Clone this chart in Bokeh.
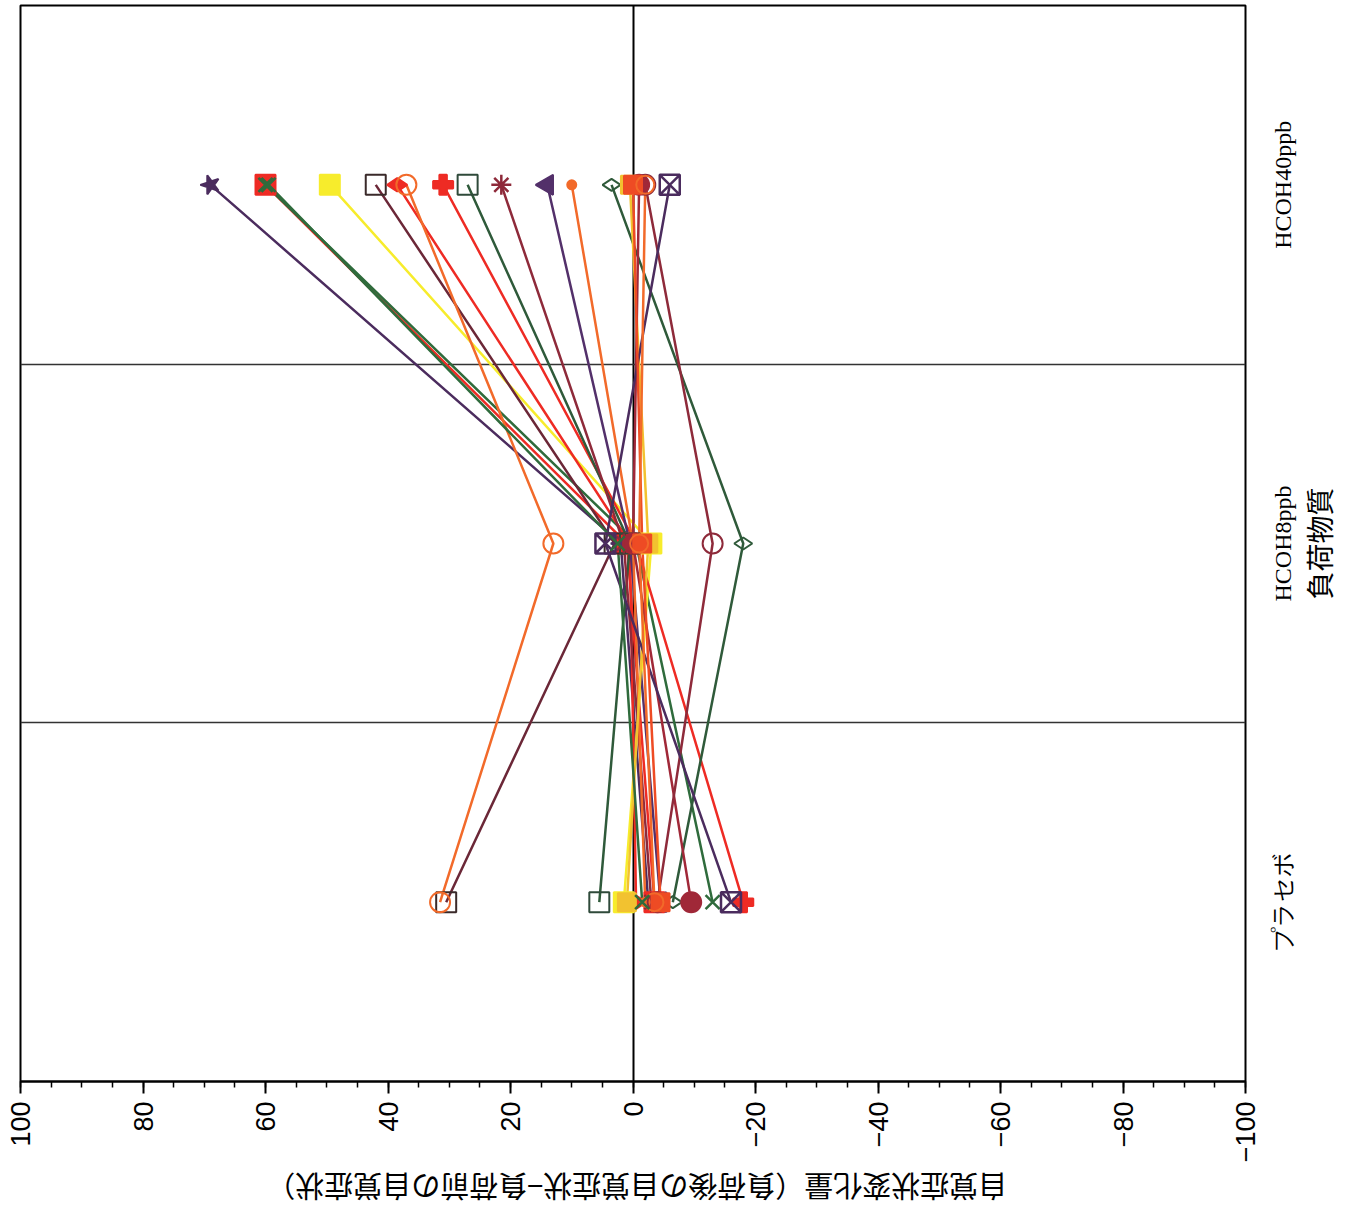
import math
from bokeh.plotting import figure
from bokeh.models import Range1d, FixedTicker, SingleIntervalTicker, Grid
from bokeh.layouts import column, row
from bokeh.core.properties import value
from bokeh.embed import file_html
from bokeh.resources import INLINE

# categories (bottom to top in the rotated picture)
categories = ["プラセボ", "HCOH8ppb", "HCOH40ppb"]
cat_pos = [0.5, 1.5, 2.5]
value_title = "自覚症状変化量（負荷後の自覚症状−負荷前の自覚症状）"
category_title = "負荷物質"

# values of each subject at each condition
placebo = [-2.5, -3.5, -13.0, 1.5, 30.5, -0.5, 31.5, -18.0, 5.5, -3.0,
           -4.5, -2.0, -6.5, 1.0, -9.5, -4.0, -16.0, -4.5, -3.5, -1.5]
hcoh8 = [2.0, 1.0, -0.5, -3.0, 3.0, 0.5, 13.0, -0.5, 0.5, 1.5,
         0.5, 0.0, -18.0, -2.5, 0.0, -13.0, 4.5, -1.5, -1.0, 2.5]
hcoh40 = [69.0, 60.0, 60.0, 49.5, 42.0, 38.5, 37.0, 31.0, 27.0, 21.5,
          14.0, 10.0, 3.5, 0.5, -1.0, -2.0, -6.0, 0.0, -2.0, 59.5]

colors = ["#4B2C5E", "#EE2B24", "#2F6B3C", "#F7EC2C", "#6B2737", "#EE2B24",
          "#F26A2A", "#EE2B24", "#2F5A3A", "#8E2A3A", "#53306A", "#F26A2A",
          "#2F5A3A", "#F2C230", "#A02838", "#8E2A3A", "#4B2C5E", "#EE4B24",
          "#F26A2A", "#2F6B3C"]
markers = ["star", "square", "x", "square", "square", "diamond", "circle",
           "plus", "square", "asterisk", "triangle", "circle", "diamond",
           "square", "circle", "circle", "square_x", "square", "circle", "x"]
filled = [True, True, False, True, False, True, False, True, False, False,
          True, True, False, True, True, False, False, True, False, False]
sizes = [20, 20, 20, 20, 20, 20, 20, 20, 20, 20,
         20, 9, 18, 18, 20, 20, 20, 18, 18, 20]
edge = ["#4B2C5E", "#EE2B24", "#2F6B3C", "#F7EC2C", "#3A2A2A", "#EE2B24",
        "#F26A2A", "#EE2B24", "#2F4A3A", "#8E2A3A", "#53306A", "#F26A2A",
        "#2F5A3A", "#F2C230", "#A02838", "#8E2A3A", "#4B2C5E", "#EE4B24",
        "#F26A2A", "#2F6B3C"]

# ---------------- main plot ----------------
p = figure(width=1261, height=1165, x_range=Range1d(100, -100), y_range=Range1d(0, 3),
           output_backend="svg", toolbar_location=None, y_axis_location=None,
           min_border_left=20, min_border_top=5, min_border_right=16, min_border_bottom=83)

p.background_fill_color = "white"
p.border_fill_color = "white"
p.outline_line_color = "black"
p.outline_line_width = 2

xa = p.xaxis[0]
xa.ticker = SingleIntervalTicker(interval=20, num_minor_ticks=4)
xa.major_label_orientation = math.pi / 2
xa.major_label_text_font = "Liberation Sans"
xa.major_label_text_font_size = "27px"
xa.major_label_text_color = "black"
xa.major_tick_out = 12
xa.major_tick_in = 0
xa.minor_tick_out = 6
xa.minor_tick_in = 0
xa.major_tick_line_width = 2
xa.minor_tick_line_width = 1.5
xa.axis_line_width = 2
xa.major_label_standoff = 8

for g in p.xgrid:
    g.ticker = FixedTicker(ticks=[0])
    g.grid_line_color = "black"
    g.grid_line_width = 2
for g in p.ygrid:
    g.visible = False
p.add_layout(Grid(dimension=1, ticker=FixedTicker(ticks=[1, 2]),
                  grid_line_color="#333333", grid_line_width=1.5))

for i in range(len(placebo)):
    xs = [placebo[i], hcoh8[i], hcoh40[i]]
    p.line(x=xs, y=cat_pos, line_color=colors[i], line_width=2.5)

for i in range(len(placebo)):
    xs = [placebo[i], hcoh8[i], hcoh40[i]]
    p.scatter(x=xs, y=cat_pos, marker=markers[i], size=sizes[i],
              fill_color=colors[i] if filled[i] else None,
              line_color=edge[i], line_width=2.5 if markers[i] in ("x", "asterisk", "square_x") else 2,
              angle=math.pi / 2)

# ---------------- right strip: category labels ----------------
pr = figure(width=84, height=1165, x_range=Range1d(0, 1), y_range=p.y_range,
            output_backend="svg", toolbar_location=None,
            x_axis_location=None, y_axis_location=None,
            min_border_left=0, min_border_right=0, min_border_top=5, min_border_bottom=83)
pr.outline_line_color = None
pr.grid.visible = False
pr.text(x=[0.26] * 3, y=cat_pos, text=categories, angle=math.pi / 2,
        text_align="center", text_baseline="middle",
        text_font=value("Liberation Serif"), text_font_size="24px", text_color="black")
pr.text(x=[0.69], y=[cat_pos[1]], text=[category_title], angle=math.pi / 2,
        text_align="center", text_baseline="middle",
        text_font=value("Noto Sans CJK JP"), text_font_size="28px", text_color="black")

# ---------------- bottom strip: value axis title (upside down) ----------------
pt = figure(width=1261, height=46, x_range=p.x_range, y_range=Range1d(0, 1),
            output_backend="svg", toolbar_location=None,
            x_axis_location=None, y_axis_location=None,
            min_border_left=20, min_border_right=16, min_border_top=0, min_border_bottom=0)
pt.outline_line_color = None
pt.grid.visible = False
pt.text(x=[-0.6], y=[0.52], text=[value_title], angle=math.pi,
        text_align="center", text_baseline="middle",
        text_font=value("Noto Sans CJK JP"), text_font_size="29px", text_color="black")

layout = column(row(p, pr), pt)
open("out.html", "w").write(file_html(layout, INLINE, title="chart"))
